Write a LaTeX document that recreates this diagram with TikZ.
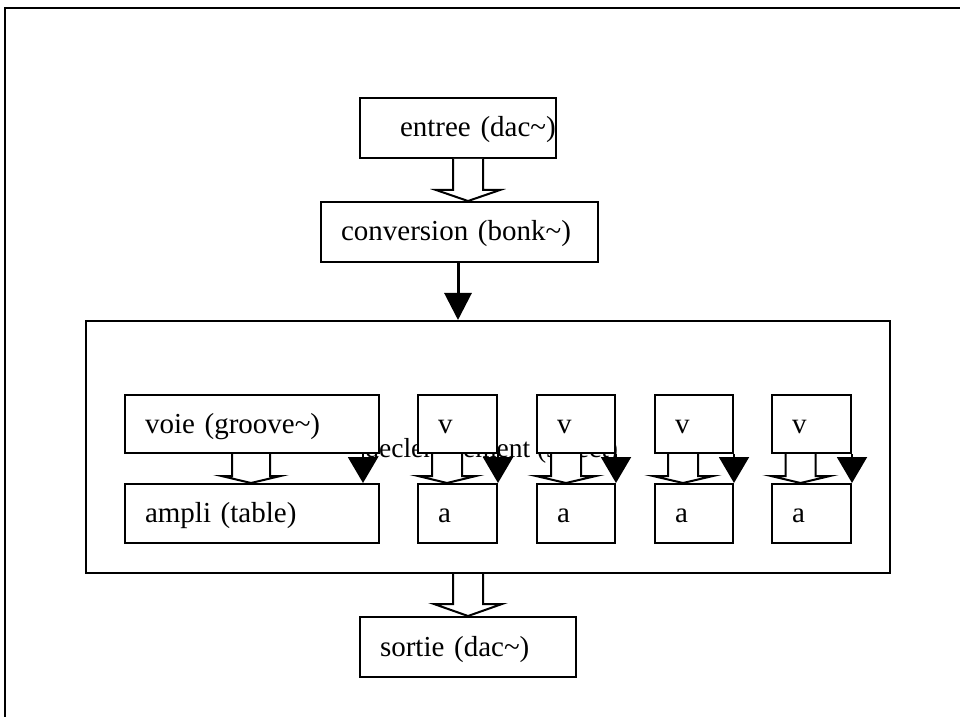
\documentclass[tikz,border=0pt]{standalone}
\usepackage{fontspec}
\setmainfont{Liberation Serif}
\usetikzlibrary{arrows.meta,calc}
\tikzset{
  box/.style={draw, line width=1pt, fill=white, rectangle, inner xsep=0pt, inner ysep=0pt,
    text height=10pt, text depth=1pt, align=left, font=\fontsize{14.5pt}{16pt}\selectfont},
  bigbox/.style={draw, line width=1pt, rectangle, inner sep=0pt},
  hiddentext/.style={inner sep=0pt, font=\fontsize{13.75pt}{15pt}\selectfont},
  hollow/.style={draw, line width=1pt, fill=white, line join=miter},
  bigarrow/.style={line width=1.5pt, -{Triangle[length=13.5pt,width=13.5pt]}},
  smallarrow/.style={line width=1pt, -{Triangle[length=13pt,width=15pt]}},
  frame/.style={line width=1pt}
}
\newcommand\hollowarrow[6]{%
  \draw[hollow] let \p1=(#1.south), \p2=(#2.north), \p3=(#3) in
    (\x3-#4,\y1) -- (\x3-#4,\y2+#6) -- (\x3-#5,\y2+#6) -- (\x3,\y2)
    -- (\x3+#5,\y2+#6) -- (\x3+#4,\y2+#6) -- (\x3+#4,\y1);}
\begin{document}
\begin{tikzpicture}[x=0.5pt,y=-0.5pt]
\useasboundingbox (0,0) rectangle (960,717);
% open frame
\draw[frame] (5,717) -- (5,8) -- (960,8);

% big container
\node[bigbox, minimum width=402pt, minimum height=126pt] (big) at (488,447) {};

% text partly hidden behind the boxes
\node[hiddentext, anchor=base west] (decl) at (365,457) {declenchement (select)};

% top chain
\node[box, minimum width=98pt, minimum height=30pt, text width=98pt] (entree) at (458,128)
  {\hspace*{20pt}entree (dac\textasciitilde)};
\node[box, minimum width=138.5pt, minimum height=30pt, text width=138.5pt] (conv) at (459.5,232)
  {\hspace*{10pt}conversion (bonk\textasciitilde)};

% inner boxes
\node[box, minimum width=127pt, minimum height=29pt, text width=127pt] (voie) at (252,424)
  {\hspace*{10pt}voie (groove\textasciitilde)};
\node[box, minimum width=127pt, minimum height=29.5pt, text width=127pt] (ampli) at (252,513.5)
  {\hspace*{10pt}ampli (table)};

\node[box, minimum width=39.5pt, minimum height=29pt, text width=39.5pt] (v1) at (457.5,424) {\hspace*{10pt}v};
\node[box, minimum width=39.5pt, minimum height=29.5pt, text width=39.5pt] (a1) at (457.5,513.5) {\hspace*{10pt}a};
\node[box, minimum width=39pt, minimum height=29pt, text width=39pt] (v2) at (576,424) {\hspace*{10pt}v};
\node[box, minimum width=39pt, minimum height=29.5pt, text width=39pt] (a2) at (576,513.5) {\hspace*{10pt}a};
\node[box, minimum width=39pt, minimum height=29pt, text width=39pt] (v3) at (694,424) {\hspace*{10pt}v};
\node[box, minimum width=39pt, minimum height=29.5pt, text width=39pt] (a3) at (694,513.5) {\hspace*{10pt}a};
\node[box, minimum width=39.5pt, minimum height=29pt, text width=39.5pt] (v4) at (811.5,424) {\hspace*{10pt}v};
\node[box, minimum width=39.5pt, minimum height=29.5pt, text width=39.5pt] (a4) at (811.5,513.5) {\hspace*{10pt}a};

% output
\node[box, minimum width=108pt, minimum height=30pt, text width=108pt] (sortie) at (468,647)
  {\hspace*{10pt}sortie (dac\textasciitilde)};

% axis coordinates for the connectors
\coordinate (cin) at (468,0);
\coordinate (cconv) at (458,0);
\coordinate (cout) at (468,0);
\coordinate (cvoie) at (251,0);

% hollow arrows
\hollowarrow{entree}{conv}{cin}{7.5pt}{16pt}{5.5pt}
\hollowarrow{voie}{ampli}{cvoie}{9.5pt}{14.75pt}{3.5pt}
\hollowarrow{v1}{a1}{[xshift=15pt]v1.west}{7.5pt}{14.5pt}{3.5pt}
\hollowarrow{v2}{a2}{[xshift=15pt]v2.west}{7.5pt}{15pt}{3.5pt}
\hollowarrow{v3}{a3}{[xshift=14.5pt]v3.west}{7.5pt}{15pt}{3.5pt}
\hollowarrow{v4}{a4}{[xshift=14.75pt]v4.west}{7.5pt}{14.75pt}{3.5pt}
\hollowarrow{big}{sortie}{cout}{7.5pt}{17pt}{6pt}

% solid arrows
\draw[bigarrow] (conv.south -| cconv) -- (big.north -| cconv);
\draw[smallarrow] ([xshift=-8.5pt]voie.south east) -- ([xshift=-8.5pt]ampli.north east);
\draw[smallarrow] (v1.south east) -- (a1.north east);
\draw[smallarrow] (v2.south east) -- (a2.north east);
\draw[smallarrow] (v3.south east) -- (a3.north east);
\draw[smallarrow] (v4.south east) -- (a4.north east);
\end{tikzpicture}
\end{document}
